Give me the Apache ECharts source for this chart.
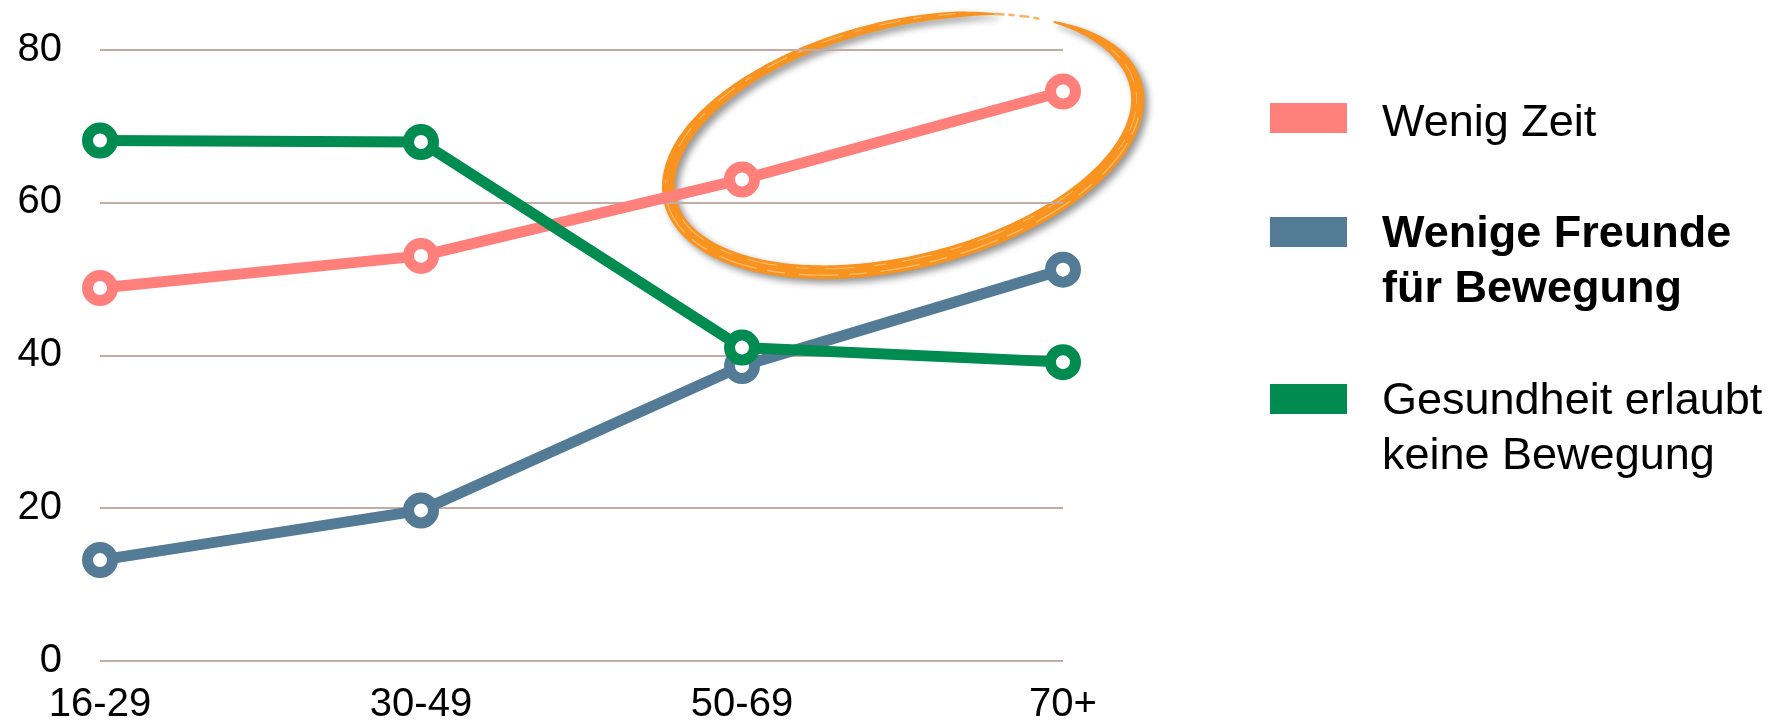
<!DOCTYPE html>
<html>
<head>
<meta charset="utf-8">
<script src="https://cdn.jsdelivr.net/npm/echarts@6/dist/echarts.min.js"></script>
<style>
  html, body { margin: 0; padding: 0; background: #ffffff; }
  #chart { width: 1778px; height: 726px; }
</style>
</head>
<body>
<div id="chart"></div>
<script>
// Age groups on the x axis
const categories = ['16-29', '30-49', '50-69', '70+'];

// Share of respondents (%) per reason
const wenigZeit = [48.8, 53.0, 63.0, 74.5];
const wenigeFreunde = [13.2, 19.7, 38.6, 51.2];
const gesundheit = [68.1, 67.9, 41.0, 39.1];

// Series labels and colours
const seriesNames = ['Wenig Zeit', 'Wenige Freunde\nfür Bewegung', 'Gesundheit erlaubt\nkeine Bewegung'];
const seriesColors = ['#ff7f7b', '#547b95', '#008b50'];
const seriesBold = [false, true, false];

// Value axis range
const yMin = 0, yMax = 80, yStep = 20;

const FONT = "'Liberation Sans', Arial, Helvetica, sans-serif";
const chart = echarts.init(document.getElementById('chart'), null, { renderer: 'canvas' });

const seriesData = [wenigZeit, wenigeFreunde, gesundheit];

const series = seriesData.map((values, i) => ({
  name: seriesNames[i],
  type: 'line',
  data: values,
  symbol: 'circle',
  symbolSize: 25,
  showSymbol: true,
  lineStyle: { color: seriesColors[i], width: 11 },
  itemStyle: { color: '#ffffff', borderColor: seriesColors[i], borderWidth: 11 },
  z: 2 + i
}));

// Legend: colour swatch with the label beside it, first line level with the swatch
const legendTops = [103, 217, 384];
const legendTextShift = [3, 0, 0];
const legendGraphics = [];
seriesNames.forEach((name, i) => {
  legendGraphics.push({
    type: 'rect',
    x: 1270, y: legendTops[i],
    shape: { width: 77, height: 30 },
    style: { fill: seriesColors[i] },
    silent: true
  });
  legendGraphics.push({
    type: 'text',
    x: 1382, y: legendTops[i] + 18 - 27.5 + legendTextShift[i],
    style: {
      text: name,
      fill: '#000000',
      font: (seriesBold[i] ? 'bold ' : '') + '45px ' + FONT,
      lineHeight: 55,
      verticalAlign: 'top',
      align: 'left'
    },
    silent: true
  });
});

// ---- Hand-drawn highlight ring -------------------------------------------
// The ring is an ellipse (radii RX, RY) in its own rotated frame. The brush
// stroke is built as a filled band whose width varies along the ellipse
// (angle in degrees, clockwise from the ring's right end).
const RX = 240, RY = 119;
const deg = Math.PI / 180;
const brushProfile = [
  [-43, 2], [-32, 6], [-16, 11], [0, 13], [90, 14], [180, 13],
  [205, 12], [240, 9], [270, 8], [290, 6], [300, 2]
];
function widthAt(profile, t) {
  for (let k = 0; k < profile.length - 1; k++) {
    const a = profile[k], b = profile[k + 1];
    if (t >= a[0] && t <= b[0]) return a[1] + (b[1] - a[1]) * (t - a[0]) / (b[0] - a[0]);
  }
  return profile[profile.length - 1][1];
}
function ringPoint(t, offset) {
  const r = t * deg;
  const px = RX * Math.cos(r), py = RY * Math.sin(r);
  let nx = RY * Math.cos(r), ny = RX * Math.sin(r);
  const len = Math.hypot(nx, ny);
  nx /= len; ny /= len;
  return [px + nx * offset, py + ny * offset];
}
function brushBand(profile, t0, t1, steps) {
  const outer = [], inner = [];
  for (let s = 0; s <= steps; s++) {
    const t = t0 + (t1 - t0) * s / steps;
    const w = widthAt(profile, t) / 2;
    outer.push(ringPoint(t, w));
    inner.push(ringPoint(t, -w));
  }
  return outer.concat(inner.reverse());
}
function ringLine(t0, t1, offset, steps) {
  const pts = [];
  for (let s = 0; s <= steps; s++) pts.push(ringPoint(t0 + (t1 - t0) * s / steps, offset));
  return pts;
}

const ringChildren = [
  {
    type: 'polygon',
    shape: { points: brushBand(brushProfile, -43, 300, 360) },
    style: {
      fill: '#f7931e',
      shadowColor: 'rgba(0,0,0,0.42)', shadowBlur: 7, shadowOffsetX: 4, shadowOffsetY: 4
    },
    silent: true
  },
  {
    // faint dry-brush tail at the top before the small gap
    type: 'polyline',
    shape: { points: ringLine(300, 313, 0, 20) },
    style: { stroke: 'rgba(247,147,30,0.7)', lineWidth: 2.5, lineDash: [10, 4, 6, 5] },
    silent: true
  }
];
// lighter streaks across the stroke for the brush texture
const streaks = [
  { from: 15, to: 190, offset: 3, width: 1.4, dash: [18, 10, 40, 14] },
  { from: 50, to: 175, offset: -3.5, width: 1.2, dash: [30, 16, 12, 20] },
  { from: 205, to: 290, offset: 1, width: 1.2, dash: [22, 12, 8, 18] },
  { from: -20, to: 30, offset: -1, width: 1.0, dash: [12, 8, 20, 10] }
];
streaks.forEach(s => {
  ringChildren.push({
    type: 'polyline',
    shape: { points: ringLine(s.from, s.to, s.offset, 120) },
    style: { stroke: 'rgba(252,198,125,0.75)', lineWidth: s.width, lineDash: s.dash },
    silent: true
  });
});

const highlight = {
  type: 'group',
  x: 903, y: 143,
  rotation: 14 * deg,
  z: 50,
  children: ringChildren
};

chart.setOption({
  animation: false,
  backgroundColor: '#ffffff',
  grid: { left: 100, right: 715, top: 49.5, bottom: 65, containLabel: false },
  xAxis: {
    type: 'category',
    data: categories,
    boundaryGap: false,
    axisLine: { show: false },
    axisTick: { show: false },
    axisLabel: { color: '#000000', fontSize: 40, fontFamily: FONT, margin: 24 }
  },
  yAxis: {
    type: 'value',
    min: yMin, max: yMax, interval: yStep,
    axisLine: { show: false },
    axisTick: { show: false },
    splitLine: { lineStyle: { color: '#c2aca3', width: 2 } },
    axisLabel: { color: '#000000', fontSize: 40, fontFamily: FONT, margin: 38 }
  },
  series: series,
  graphic: legendGraphics.concat([highlight])
});
</script>
</body>
</html>
